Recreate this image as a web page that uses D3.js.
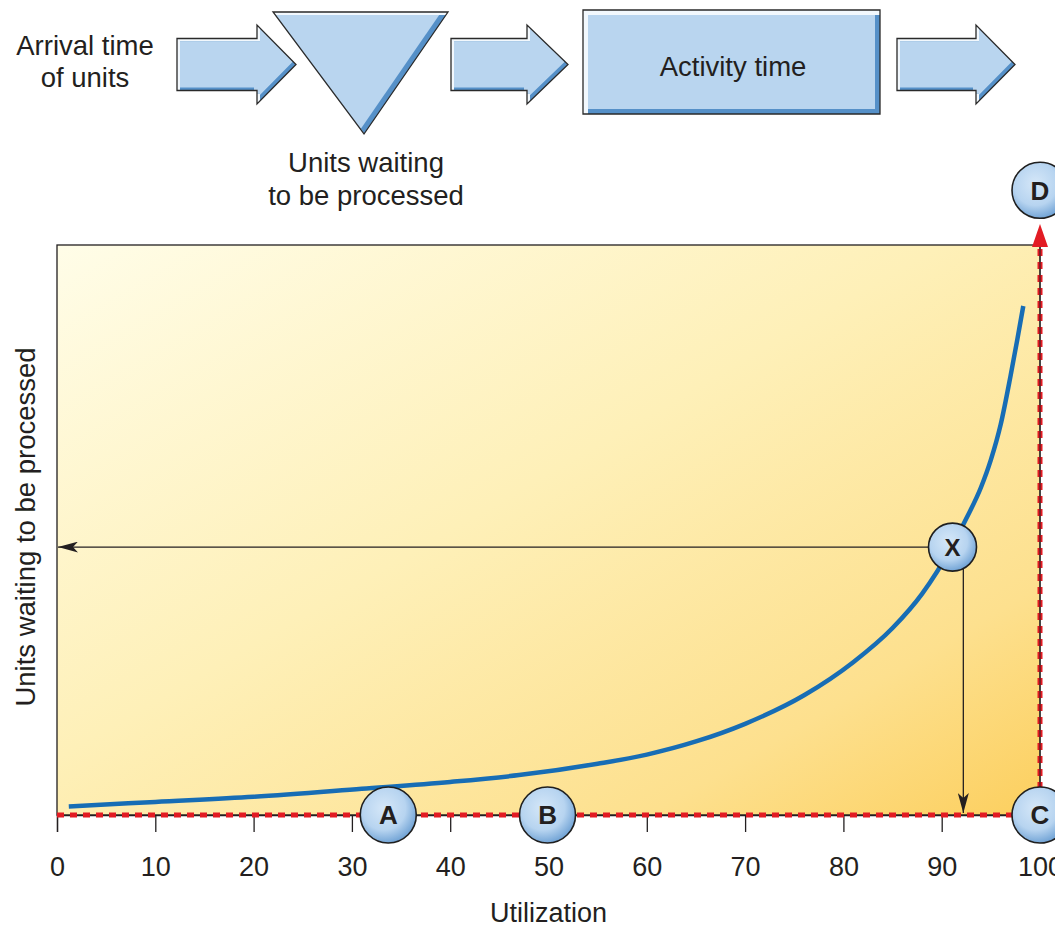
<!DOCTYPE html>
<html>
<head>
<meta charset="utf-8">
<script src="https://cdn.jsdelivr.net/npm/d3@7"></script>
<style>
  html, body { margin: 0; padding: 0; background: #ffffff; }
  svg { display: block; }
  text { font-family: "Liberation Sans", Arial, Helvetica, sans-serif; fill: #231f20; }
</style>
</head>
<body>
<svg id="chart" width="1055" height="928"></svg>
<script>
// ---------------- data ----------------
const utilization  = [1.2, 10, 20, 31, 40, 47, 55, 60, 65, 70, 76, 81, 85, 88, 91, 92.5, 94, 95, 96, 97, 97.7, 98.3];
const unitsWaiting = [1.5, 2.3, 3.2, 4.6, 5.8, 7.0, 9.0, 10.6, 12.9, 16.0, 21.0, 26.8, 32.8, 38.8, 47.0, 52.0, 57.5, 62.3, 68.5, 77.0, 83.5, 89.3];

const xTicks      = [0, 10, 20, 30, 40, 50, 60, 70, 80, 90, 100];
const xTickLabels = ["0", "10", "20", "30", "40", "50", "60", "70", "80", "90", "100"];

const markerLabels = ["A", "B", "C", "D", "X"];
const markerUtil   = [33.7, 49.9, 100, 100, 91.1];
const markerValue  = [0, 0, 0, 109.6, 47];

const guideUtil  = 92.2;   // vertical read-off from X
const guideValue = 47;     // horizontal read-off from X

const xAxisTitle = "Utilization";
const yAxisTitle = "Units waiting to be processed";

const flowArrival  = ["Arrival time", "of units"];
const flowQueue    = ["Units waiting", "to be processed"];
const flowActivity = "Activity time";

// ---------------- setup ----------------
const svg = d3.select("#chart");
const defs = svg.append("defs");

const plot = { left: 57, right: 1040, top: 245, bottom: 815 };
const x = d3.scaleLinear().domain([0, 100]).range([plot.left, plot.right]);
const y = d3.scaleLinear().domain([0, 100]).range([plot.bottom, plot.top]);

// background gradient
const bg = defs.append("linearGradient").attr("id", "bgGrad")
  .attr("x1", "0").attr("y1", "0").attr("x2", "1").attr("y2", "1");
bg.append("stop").attr("offset", "0").attr("stop-color", "#fffde8");
bg.append("stop").attr("offset", "0.45").attr("stop-color", "#fef0b8");
bg.append("stop").attr("offset", "0.8").attr("stop-color", "#fde08e");
bg.append("stop").attr("offset", "1").attr("stop-color", "#fccf5e");

// bubble gradient
const bub = defs.append("radialGradient").attr("id", "bubGrad")
  .attr("cx", "0.42").attr("cy", "0.38").attr("r", "0.65");
bub.append("stop").attr("offset", "0").attr("stop-color", "#d5e7f8");
bub.append("stop").attr("offset", "0.6").attr("stop-color", "#b7d4f0");
bub.append("stop").attr("offset", "1").attr("stop-color", "#6b9fd3");

// arrow markers
function addMarker(id, color, w, h) {
  defs.append("marker").attr("id", id)
    .attr("viewBox", `0 0 ${w} ${h}`)
    .attr("refX", w).attr("refY", h / 2)
    .attr("markerWidth", w).attr("markerHeight", h)
    .attr("markerUnits", "userSpaceOnUse")
    .attr("orient", "auto")
    .append("path").attr("d", `M0,0 L${w},${h / 2} L0,${h} L${w * 0.25},${h / 2} Z`)
    .attr("fill", color);
}
addMarker("arrBlack", "#231f20", 20, 11);

// ---------------- flow diagram ----------------
const LIGHT = "#b9d5ef", DARK = "#5590c8", HI = "#f2f8fd";
let clipCount = 0;
function bevel(d, dHi, dLo) {
  const id1 = "clipA" + (clipCount), id2 = "clipB" + (clipCount++);
  defs.append("clipPath").attr("id", id1).append("path").attr("d", d);
  defs.append("clipPath").attr("id", id2).append("path").attr("d", d)
    .attr("transform", `translate(${-dLo},${-dLo})`);
  const g = svg.append("g").attr("clip-path", `url(#${id1})`);
  g.append("path").attr("d", d).attr("fill", HI);
  g.append("path").attr("d", d).attr("fill", DARK).attr("transform", `translate(${dHi},${dHi})`);
  g.append("g").attr("clip-path", `url(#${id2})`)
    .append("path").attr("d", d).attr("fill", LIGHT).attr("transform", `translate(${dHi},${dHi})`);
  svg.append("path").attr("d", d).attr("fill", "none")
    .attr("stroke", "#2a2a2a").attr("stroke-width", 1.3).attr("stroke-linejoin", "miter");
}
function arrowPath(x0, xh, x1, yc, bh, hh) {
  const p = d3.path();
  p.moveTo(x0, yc - bh); p.lineTo(xh, yc - bh); p.lineTo(xh, yc - hh);
  p.lineTo(x1, yc); p.lineTo(xh, yc + hh); p.lineTo(xh, yc + bh);
  p.lineTo(x0, yc + bh); p.closePath();
  return p.toString();
}
bevel(arrowPath(177, 257, 296, 64.5, 26, 39.5), 3, 3);
bevel(arrowPath(451, 527, 568, 64.5, 26, 39.5), 3, 3);
bevel(arrowPath(897, 976, 1015, 64.5, 26, 39.5), 3, 3);
(() => {
  const p = d3.path();
  p.moveTo(273, 12); p.lineTo(448, 12); p.lineTo(364, 134); p.closePath();
  bevel(p.toString(), 3, 4);
})();
(() => {
  const p = d3.path();
  p.rect(583, 10, 297, 104);
  bevel(p.toString(), 5, 5);
})();

const flowText = svg.append("g").attr("font-size", 27.5).attr("text-anchor", "middle");
flowText.selectAll("text.arr").data(flowArrival).join("text").attr("class", "arr")
  .attr("x", 85).attr("y", (d, i) => 55 + i * 32).text(d => d);
flowText.selectAll("text.que").data(flowQueue).join("text").attr("class", "que")
  .attr("x", 366).attr("y", (d, i) => 172 + i * 33).text(d => d);
flowText.append("text").attr("x", 733).attr("y", 76).text(flowActivity);

// ---------------- plot ----------------
svg.append("rect")
  .attr("x", plot.left).attr("y", plot.top)
  .attr("width", plot.right - plot.left).attr("height", plot.bottom - plot.top)
  .attr("fill", "url(#bgGrad)")
  .attr("stroke", "#231f20").attr("stroke-width", 1.3);

// x axis ticks
const xAxis = d3.axisBottom(x).tickValues(xTicks)
  .tickFormat((d, i) => xTickLabels[i]).tickSize(17).tickPadding(25);
const ax = svg.append("g").attr("transform", `translate(0,${plot.bottom})`).call(xAxis);
ax.select(".domain").attr("stroke", "#231f20").attr("stroke-width", 1.3);
ax.selectAll(".tick line").attr("stroke", "#231f20").attr("stroke-width", 1.3);
ax.selectAll(".tick text").attr("font-size", 27)
  .attr("font-family", "'Liberation Sans', Arial, Helvetica, sans-serif").attr("fill", "#231f20");

// axis titles
svg.append("text").attr("x", x(50)).attr("y", 922).attr("text-anchor", "middle")
  .attr("font-size", 27).text(xAxisTitle);
svg.append("text").attr("transform", `translate(35,${(plot.top + plot.bottom) / 2 - 3}) rotate(-90)`)
  .attr("text-anchor", "middle").attr("font-size", 27.5).text(yAxisTitle);

// red dashed lines (capacity)
const red = "#e21b23";
svg.append("line").attr("x1", x(0)).attr("x2", x(100)).attr("y1", y(0)).attr("y2", y(0))
  .attr("stroke", red).attr("stroke-width", 5).attr("stroke-dasharray", "7,6");
svg.append("line").attr("x1", x(100)).attr("x2", x(100)).attr("y1", y(0)).attr("y2", y(100) + 2)
  .attr("stroke", red).attr("stroke-width", 5).attr("stroke-dasharray", "7,6");
svg.append("line").attr("x1", x(100)).attr("x2", x(100)).attr("y1", y(0)).attr("y2", y(100))
  .attr("stroke", "#231f20").attr("stroke-width", 1);
svg.append("path")
  .attr("d", `M${x(100)},${y(100) - 21} L${x(100) + 8},${y(100) + 2} L${x(100) - 8},${y(100) + 2} Z`)
  .attr("fill", red);

// curve
const pts = utilization.map((u, i) => [u, unitsWaiting[i]]);
const line = d3.line().x(d => x(d[0])).y(d => y(d[1])).curve(d3.curveMonotoneX);
svg.append("path").datum(pts).attr("d", line)
  .attr("fill", "none").attr("stroke", "#176db5").attr("stroke-width", 4.5)
  .attr("stroke-linecap", "butt");

// guide arrows from X
const xi = markerLabels.indexOf("X");
const xr = 24;
svg.append("line")
  .attr("x1", x(markerUtil[xi]) - xr).attr("y1", y(guideValue))
  .attr("x2", x(0) + 1).attr("y2", y(guideValue))
  .attr("stroke", "#231f20").attr("stroke-width", 1.3).attr("marker-end", "url(#arrBlack)");
svg.append("line")
  .attr("x1", x(guideUtil)).attr("y1", y(guideValue) + 20)
  .attr("x2", x(guideUtil)).attr("y2", y(0) - 2)
  .attr("stroke", "#231f20").attr("stroke-width", 1.3).attr("marker-end", "url(#arrBlack)");

// bubbles
const bubbles = svg.selectAll("g.bubble").data(markerLabels).join("g").attr("class", "bubble")
  .attr("transform", (d, i) => `translate(${x(markerUtil[i])},${y(markerValue[i])})`);
bubbles.append("circle").attr("r", d => d === "X" ? 24 : 28)
  .attr("fill", "url(#bubGrad)").attr("stroke", "#1f1f1f").attr("stroke-width", 1.6);
bubbles.append("text").attr("text-anchor", "middle").attr("dy", "0.36em")
  .attr("font-size", d => d === "X" ? 24 : 26).attr("font-weight", "bold")
  .attr("fill", "#1a1a1a").text(d => d);
</script>
</body>
</html>
